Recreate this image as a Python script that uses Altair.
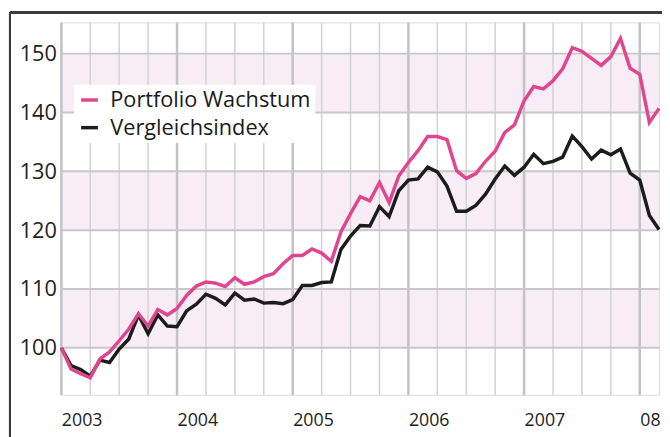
import altair as alt
import pandas as pd

# ---- data (monthly index values, Jan 2003 = month 0) ----
portfolio = [100.0, 96.4, 95.6, 94.9, 98.1, 99.3, 101.2, 103.2, 105.8, 103.7,
             106.5, 105.6, 106.7, 108.9, 110.5, 111.2, 111.0, 110.4, 111.9, 110.8,
             111.2, 112.1, 112.6, 114.3, 115.7, 115.7, 116.8, 116.1, 114.7, 119.7,
             122.8, 125.7, 125.0, 128.1, 124.7, 129.2, 131.5, 133.5, 135.9, 135.9,
             135.4, 130.1, 128.8, 129.6, 131.7, 133.4, 136.6, 137.9, 142.0, 144.4,
             144.0, 145.4, 147.4, 151.0, 150.4, 149.2, 148.0, 149.5, 152.6, 147.5,
             146.5, 138.3, 140.7]
benchmark = [100.0, 97.0, 96.3, 95.2, 97.9, 97.5, 99.8, 101.5, 105.6, 102.4,
             105.6, 103.7, 103.6, 106.3, 107.4, 109.1, 108.4, 107.3, 109.3, 108.1,
             108.3, 107.6, 107.7, 107.5, 108.2, 110.6, 110.6, 111.1, 111.2, 116.7,
             119.0, 120.8, 120.7, 124.0, 122.3, 126.7, 128.5, 128.7, 130.7, 129.9,
             127.5, 123.2, 123.2, 124.2, 126.1, 128.7, 130.9, 129.3, 130.7, 132.9,
             131.3, 131.7, 132.4, 136.0, 134.2, 132.1, 133.6, 132.8, 133.8, 129.7,
             128.5, 122.5, 120.1]
months = list(range(len(portfolio)))
series_names = ["Portfolio Wachstum", "Vergleichsindex"]
series_colors = ["#e0468f", "#1c1c1c"]

year_ticks = [0, 12, 24, 36, 48, 60]
year_labels = ["2003", "2004", "2005", "2006", "2007", "08"]
quarter_ticks = [3, 6, 9, 15, 18, 21, 27, 30, 33, 39, 42, 45, 51, 54, 57]
y_ticks = [100, 110, 120, 130, 140, 150]
band_lo = [100, 120, 140]
band_hi = [110, 130, 150]

FONT = "Open Sans"

df_p = pd.DataFrame({"m": months, "v": portfolio, "s": series_names[0]})
df_b = pd.DataFrame({"m": months, "v": benchmark, "s": series_names[1]})
df_bands = pd.DataFrame({"lo": band_lo, "hi": band_hi})
df_q = pd.DataFrame({"m": quarter_ticks})
df_y = pd.DataFrame({"m": year_ticks})
df_h = pd.DataFrame({"v": y_ticks})

xscale = alt.Scale(domain=[0, 62], nice=False, zero=False)
yscale = alt.Scale(domain=[92, 155.3], nice=False, zero=False)

label_expr = ("[" + ",".join(f"'{l}'" for l in year_labels) + "][indexof("
              + str(year_ticks) + ", datum.value)]")

x_axis = alt.Axis(values=year_ticks, labelExpr=label_expr, title=None, grid=False,
                  ticks=False, domain=False, labelAlign="left", labelPadding=17,
                  labelFont=FONT, labelFontSize=18, labelColor="#222222",
                  labelFlush=False, labelOverlap=False)
y_axis = alt.Axis(values=y_ticks, title=None, grid=False, ticks=False, domain=False,
                  labelPadding=5, labelFont=FONT, labelFontSize=22,
                  labelColor="#222222")

bands = alt.Chart(df_bands).mark_rect(color="#f8edf5").encode(
    y=alt.Y("lo:Q", scale=yscale, axis=y_axis),
    y2="hi:Q",
    x=alt.value(0), x2=alt.value(605),
)

qgrid = alt.Chart(df_q).mark_rule(color="#d2d2d6", strokeWidth=1.5).encode(
    x=alt.X("m:Q", scale=xscale, axis=x_axis))
ygrid = alt.Chart(df_y).mark_rule(color="#c2c2c6", strokeWidth=2.5).encode(
    x=alt.X("m:Q", scale=xscale))
hgrid = alt.Chart(df_h).mark_rule(color="#c8c8cc", strokeWidth=2).encode(
    y=alt.Y("v:Q", scale=yscale))

color = alt.Color("s:N", scale=alt.Scale(domain=series_names, range=series_colors),
                  legend=alt.Legend(title=None, orient="none", legendX=13, legendY=63,
                                    fillColor="white", padding=4.5,
                                    symbolType="stroke", symbolSize=289,
                                    symbolStrokeWidth=3.5, labelOffset=10,
                                    labelFont=FONT, labelFontSize=22,
                                    labelColor="#1a1a1a", rowPadding=6,
                                    labelLimit=400))

line_b = alt.Chart(df_b).mark_line(strokeWidth=3.5).encode(
    x=alt.X("m:Q", scale=xscale), y=alt.Y("v:Q", scale=yscale), color=color)
line_p = alt.Chart(df_p).mark_line(strokeWidth=3.5).encode(
    x=alt.X("m:Q", scale=xscale), y=alt.Y("v:Q", scale=yscale), color=color)

frame_top = alt.Chart(df_h).mark_rule(color="#3a3a3a", strokeWidth=2).encode(
    x=alt.value(-52), x2=alt.value(620), y=alt.value(-10))
frame_left = alt.Chart(df_h).mark_rule(color="#3a3a3a", strokeWidth=2).encode(
    x=alt.value(-52), y=alt.value(-10), y2=alt.value(430))

chart = alt.layer(bands, qgrid, ygrid, hgrid, line_b, line_p, frame_top, frame_left).properties(
    width=605, height=377,
    autosize=alt.AutoSizeParams(type="none"),
    padding={"left": 54, "top": 12, "right": 3, "bottom": 40},
).configure_view(stroke=None).configure(background="white")

chart.save("out.html", embed_options={"renderer": "svg", "actions": False})
